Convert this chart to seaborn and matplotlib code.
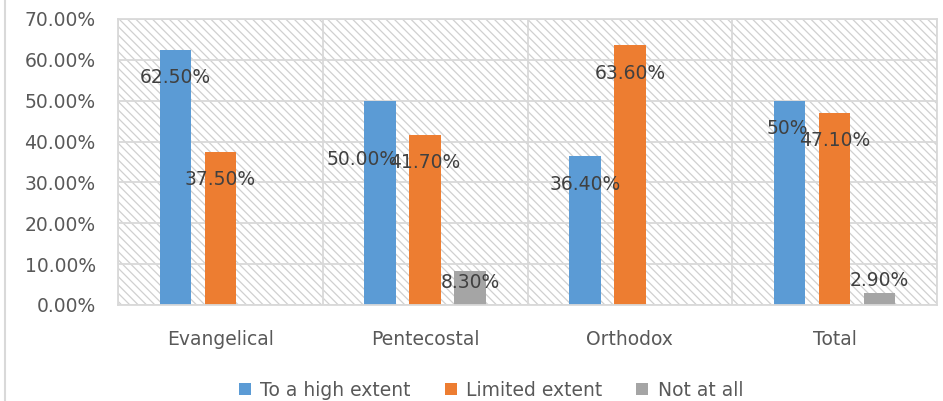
import numpy as np
import pandas as pd
import seaborn as sns
import matplotlib.pyplot as plt
from matplotlib.patches import Patch, Rectangle
from matplotlib.lines import Line2D
from matplotlib.ticker import FuncFormatter

# chart data
categories = ['Evangelical', 'Pentecostal', 'Orthodox', 'Total']
series = ['To a high extent', 'Limited extent', 'Not at all']
high_extent = [0.625, 0.50, 0.364, 0.50]
limited_extent = [0.375, 0.417, 0.636, 0.471]
not_at_all = [np.nan, 0.083, np.nan, 0.029]
label_text = {
    'To a high extent': ['62.50%', '50.00%', '36.40%', '50%'],
    'Limited extent': ['37.50%', '41.70%', '63.60%', '47.10%'],
    'Not at all': ['', '8.30%', '', '2.90%'],
}

colors = ['#5B9BD5', '#ED7D31', '#A5A5A5']
grid_color = '#d9d9d9'
text_color = '#595959'
label_color = '#404040'
fs = 13.5

# label placement, pixel offsets from the top of each bar (default is inside, below the top)
label_offsets = {
    ('Pentecostal', 'To a high extent'): (-18, -59),
    ('Pentecostal', 'Not at all'): (0, -11),
    ('Total', 'Not at all'): (0, 13),
    ('Total', 'To a high extent'): (-2, -28),
}
default_offset = (0, -28)

rows = []
for name, vals in zip(series, [high_extent, limited_extent, not_at_all]):
    for cat, v in zip(categories, vals):
        rows.append({'Denomination': cat, 'Response': name, 'Share': v})
df = pd.DataFrame(rows)

plt.rcParams['font.family'] = ['DejaVu Sans']
plt.rcParams['hatch.linewidth'] = 0.9

fig = plt.figure(figsize=(9.43, 4.01), dpi=100)
ax = fig.add_axes([118 / 943, 1 - 305 / 401, (937 - 118) / 943, (305 - 19) / 401])

# hatched plot-area background
ax.set_facecolor('white')
ax.add_patch(Rectangle((0, 0), 1, 1, transform=ax.transAxes, facecolor='white',
                       edgecolor='#d0d0d0', hatch='\\\\\\\\', lw=0, zorder=0))

sns.barplot(data=df, x='Denomination', y='Share', hue='Response',
            order=categories, hue_order=series, palette=colors,
            width=0.66, gap=0.3, saturation=1, legend=False, ax=ax, zorder=2)

ax.set_ylim(0, 0.7)
ax.set_xlim(-0.5, len(categories) - 0.5)
ax.set_yticks(np.arange(0, 0.71, 0.1))
ax.yaxis.set_major_formatter(FuncFormatter(lambda v, _: f'{v * 100:.2f}%'))
ax.set_xticks(np.arange(-0.5, len(categories)), minor=True)

ax.set_axisbelow(True)
ax.grid(axis='y', which='major', color=grid_color, lw=1.3)
ax.grid(axis='x', which='minor', color=grid_color, lw=1.3)
ax.grid(axis='x', which='major', visible=False)
for sp in ax.spines.values():
    sp.set_color(grid_color)
    sp.set_linewidth(1.3)

ax.set_xlabel('')
ax.set_ylabel('')
ax.tick_params(axis='both', which='both', length=0, labelsize=fs, colors=text_color)
ax.tick_params(axis='y', pad=16)
ax.tick_params(axis='x', pad=18)

# data labels
for name, container in zip(series, ax.containers):
    texts = [t for t in label_text[name] if t]
    cats = [c for c, t in zip(categories, label_text[name]) if t]
    for bar, txt, cat in zip(container, texts, cats):
        dx, dy = label_offsets.get((cat, name), default_offset)
        ax.annotate(txt, (bar.get_x() + bar.get_width() / 2, bar.get_height()),
                    xytext=(dx * 0.72, dy * 0.72), textcoords='offset points',
                    ha='center', va='center', fontsize=fs, color=label_color, zorder=5)

handles = [Patch(facecolor=c, edgecolor='none', label=s) for c, s in zip(colors, series)]
fig.legend(handles=handles, loc='center', bbox_to_anchor=(491 / 943, 1 - 390 / 401),
           ncol=3, frameon=False, fontsize=fs, handlelength=0.65, handleheight=0.65,
           handletextpad=0.5, columnspacing=1.8, labelcolor=text_color)

# chart border on the left
fig.add_artist(Line2D([5 / 943, 5 / 943], [0, 1], transform=fig.transFigure,
                      color=grid_color, lw=1.5))

fig.savefig('out.png', dpi=100)
